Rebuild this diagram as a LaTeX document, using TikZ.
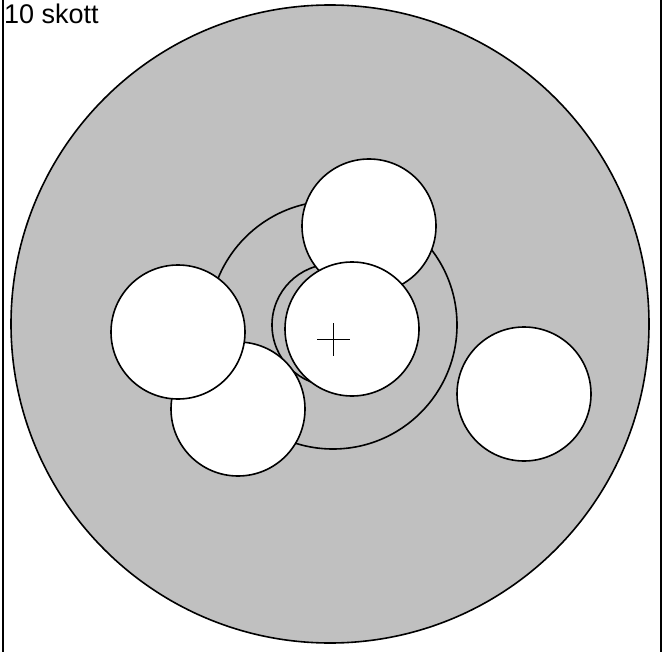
\documentclass[tikz,border=0pt]{standalone}
\usepackage{fontspec}
\setmainfont{Liberation Sans}
\begin{document}
\begin{tikzpicture}[x=1pt,y=-1pt,
  ring/.style={draw=black,line width=1.6pt},
  shot/.style={draw=black,fill=white,line width=1.6pt},
  frameline/.style={draw=black,line width=1.8pt}]
\useasboundingbox (0,0) rectangle (663,652);
\draw[ring,fill={rgb,255:red,192;green,192;blue,192}] (330,324) circle (319);
\draw[ring] (333,325) circle (124);
\draw[ring] (333,325) circle (61);
\draw[shot] (369,226) circle (67);
\draw[shot] (238,409) circle (67);
\draw[shot] (178,332) circle (67);
\draw[shot] (524,394) circle (67);
\draw[shot] (352,329) circle (67);
\draw[line width=1.4pt] (317,339.5) -- (350,339.5) (333.5,323) -- (333.5,356);
\draw[frameline] (3,0) -- (3,652);
\draw[frameline] (661,0) -- (661,652);
\node[anchor=base west,inner sep=0pt,font=\fontsize{27}{31}\selectfont] (t) at (4,24) {10 skott};
\end{tikzpicture}
\end{document}
